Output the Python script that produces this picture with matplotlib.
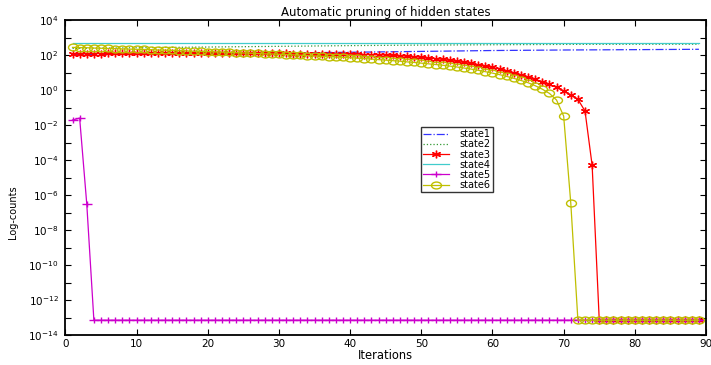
import matplotlib
matplotlib.use("Agg")
import matplotlib.pyplot as plt
from matplotlib.markers import MarkerStyle
from matplotlib.transforms import Affine2D

plt.rcParams['font.family'] = ['DejaVu Sans']
plt.rcParams['mathtext.default'] = 'regular'

# iterations
iters = list(range(1, 90))

# slow curves, read at a few iterations
iters_sparse = [1, 10, 20, 30, 40, 50, 60, 70, 80, 89]
state1 = [105, 112, 120, 132, 145, 162, 182, 195, 204, 214]
state2 = [240, 263, 288, 316, 347, 372, 389, 407, 417, 417]
state4 = [520, 520, 520, 520, 520, 520, 520, 520, 520, 520]

# log10 of counts, one value per iteration
state3_log = [2.05, 2.06, 2.07, 2.08, 2.08, 2.09, 2.09, 2.10, 2.10, 2.10,
              2.11, 2.11, 2.11, 2.12, 2.12, 2.12, 2.12, 2.12, 2.12, 2.12,
              2.12, 2.12, 2.12, 2.11, 2.11, 2.11, 2.10, 2.10, 2.09, 2.09,
              2.09, 2.08, 2.08, 2.08, 2.08, 2.07, 2.07, 2.06, 2.06, 2.05,
              2.04, 2.03, 2.02, 2.01, 2.00, 1.98, 1.96, 1.93, 1.90, 1.87,
              1.83, 1.79, 1.75, 1.70, 1.64, 1.58, 1.52, 1.45, 1.38, 1.30,
              1.20, 1.10, 0.98, 0.87, 0.75, 0.62, 0.48, 0.32, 0.15, -0.05,
              -0.28, -0.53, -1.20, -4.30] + [-13.15] * 15
state6_log = [2.44, 2.43, 2.42, 2.40, 2.39, 2.38, 2.37, 2.35, 2.34, 2.33,
              2.32, 2.31, 2.29, 2.28, 2.27, 2.25, 2.24, 2.22, 2.21, 2.20,
              2.18, 2.17, 2.15, 2.14, 2.12, 2.11, 2.09, 2.07, 2.06, 2.04,
              2.03, 2.01, 1.99, 1.97, 1.95, 1.93, 1.91, 1.89, 1.87, 1.85,
              1.82, 1.80, 1.77, 1.74, 1.71, 1.68, 1.65, 1.61, 1.58, 1.54,
              1.50, 1.46, 1.42, 1.37, 1.32, 1.26, 1.20, 1.13, 1.05, 0.97,
              0.88, 0.78, 0.67, 0.55, 0.42, 0.25, 0.05, -0.19, -0.57, -1.49,
              -6.46] + [-13.15] * 18
state5_log = [-1.71, -1.60, -6.51] + [-13.15] * 86

state3 = [10 ** v for v in state3_log]
state5 = [10 ** v for v in state5_log]
state6 = [10 ** v for v in state6_log]

ytick_exps = list(range(-14, 5))
xticks = [0, 10, 20, 30, 40, 50, 60, 70, 80, 90]

# markers look a bit wider than tall in the original
m_star = MarkerStyle((6, 2, 0), transform=Affine2D().scale(1.2, 1.0))
m_plus = MarkerStyle('+', transform=Affine2D().scale(1.3, 0.8))
m_circ = MarkerStyle('o', fillstyle='none', transform=Affine2D().scale(1.3, 0.9))

fig = plt.figure(figsize=(7.11, 3.65), dpi=100)
ax = fig.add_axes([0.092, 0.082, 0.901, 0.863])

ax.plot(iters_sparse, state1, linestyle='-.', color=(0.2, 0.2, 1), lw=0.9, label='state1')
ax.plot(iters_sparse, state2, linestyle=':', color=(0.2, 0.6, 0.2), lw=0.9, label='state2')
ax.plot(iters, state3, '-', marker=m_star, color=(1, 0, 0), lw=0.9, ms=5.5,
        mew=1.0, label='state3')
ax.plot(iters_sparse, state4, '-', color=(0.25, 0.8, 0.8), lw=0.9, label='state4')
ax.plot(iters, state5, '-', marker=m_plus, color=(0.8, 0, 0.8), lw=0.9, ms=6,
        mew=1.0, label='state5')
ax.plot(iters, state6, '-', marker=m_circ, color=(0.75, 0.75, 0), lw=0.9, ms=5.5,
        mew=1.0, label='state6')

ax.set_yscale('log')
ax.set_xlim(0, 90)
ax.set_ylim(1e-14, 1e4)
ax.set_xticks(xticks)
ax.set_yticks([10.0 ** e for e in ytick_exps])
ax.set_yticklabels(['$10^{%d}$' % e if e % 2 == 0 else '' for e in ytick_exps])
ax.minorticks_off()
ax.tick_params(direction='in', length=4, width=0.8, top=True, right=True,
               labelsize=7.5)
ax.tick_params(axis='y', pad=5)
ax.tick_params(axis='x', pad=3)
for s in ax.spines.values():
    s.set_linewidth(1.3)

ax.set_title('Automatic pruning of hidden states', fontsize=8.5, pad=3)
ax.set_xlabel('Iterations', fontsize=8.3)
ax.set_ylabel('Log-counts', fontsize=7)
ax.xaxis.set_label_coords(0.5, -0.045)
ax.yaxis.set_label_coords(-0.074, 0.39)

leg = ax.legend(loc='upper left', bbox_to_anchor=(0.555, 0.66), fontsize=7,
                frameon=True, fancybox=False, edgecolor='black',
                handlelength=2.7, handletextpad=1.1, labelspacing=0.02,
                borderpad=0.2, borderaxespad=0)
leg.get_frame().set_linewidth(1.0)

fig.savefig('out.png', dpi=100)
